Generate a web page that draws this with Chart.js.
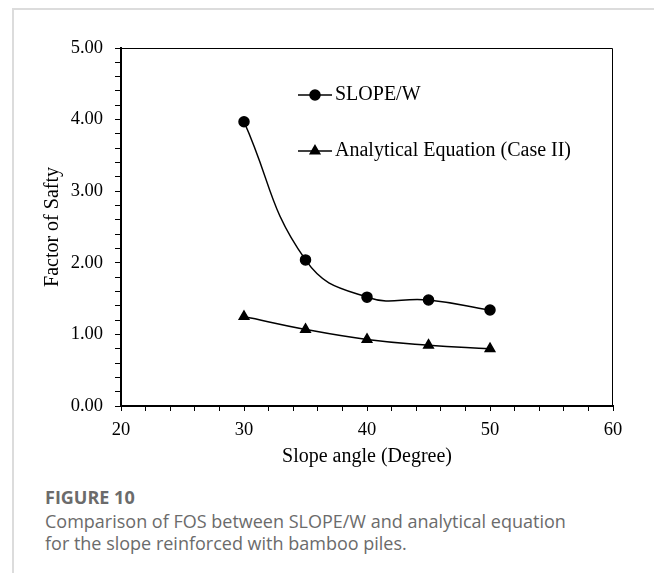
<!DOCTYPE html>
<html>
<head>
<meta charset="utf-8">
<script src="https://cdn.jsdelivr.net/npm/chart.js@4/dist/chart.umd.min.js"></script>
<style>
  html, body { margin: 0; padding: 0; background: #fff; }
  #page { position: relative; width: 654px; height: 573px; overflow: hidden; }
  #frame { position: absolute; left: 12px; top: 8px; right: 0; bottom: 0;
           border-left: 2px solid #dcdcdc; border-top: 2px solid #dcdcdc; }
  #chart { position: absolute; left: 0; top: 0; }
  .cap { position: absolute; left: 45px; font-family: "Open Sans", sans-serif; color: #6b6b6b; white-space: nowrap; }
  #figno { top: 485px; font-size: 18px; font-weight: 700; line-height: 24px; }
  #captxt { top: 510px; font-size: 18px; line-height: 22px; }
</style>
</head>
<body>
<div id="page">
  <div id="frame"></div>
  <canvas id="chart" width="654" height="475"></canvas>
  <div class="cap" id="figno">FIGURE 10</div>
  <div class="cap" id="captxt">Comparison of FOS between SLOPE/W and analytical equation<br>for the slope reinforced with bamboo piles.</div>
</div>
<script>
// slope angle (degree)
var angles = [30, 35, 40, 45, 50];
// factor of safety values
var slopeW = [3.97, 2.04, 1.52, 1.48, 1.34];
var analytical = [1.25, 1.07, 0.93, 0.85, 0.80];
var seriesNames = ["SLOPE/W", "Analytical Equation (Case II)"];

var serif = '"Liberation Serif", "Times New Roman", serif';

function toPoints(xs, ys) {
    var out = [];
    for (var i = 0; i < xs.length; i++) {
        out.push({x: xs[i], y: ys[i]});
    }
    return out;
}

// box around plot + legend inside the plot area
var boxAndLegend = {
    id: 'boxAndLegend',
    afterDatasetsDraw: function (chart) {
        var ctx = chart.ctx;
        var a = chart.chartArea;
        ctx.save();
        ctx.strokeStyle = '#000';
        ctx.lineWidth = 1;
        ctx.beginPath();
        ctx.moveTo(a.left, a.top + 0.5);
        ctx.lineTo(a.right - 0.5, a.top + 0.5);
        ctx.lineTo(a.right - 0.5, a.bottom);
        ctx.stroke();
        ctx.restore();

        chart.data.datasets.forEach(function (ds, i) {
            var x0 = a.left + 177;
            var y = a.top + 47 + i * 56;
            ctx.save();
            ctx.strokeStyle = '#000';
            ctx.fillStyle = '#000';
            ctx.lineWidth = ds.borderWidth;
            ctx.beginPath();
            ctx.moveTo(x0, y);
            ctx.lineTo(x0 + 34, y);
            ctx.stroke();
            Chart.helpers.drawPoint(ctx, {pointStyle: ds.pointStyle, radius: ds.pointRadius, borderWidth: 1, rotation: 0}, x0 + 17, y);
            ctx.font = '20px ' + serif;
            ctx.textBaseline = 'middle';
            ctx.textAlign = 'left';
            ctx.fillText(ds.label, x0 + 37, y);
            ctx.restore();
        });
    }
};

var ctx = document.getElementById("chart").getContext("2d");
var fosChart = new Chart(ctx, {
    type: 'line',
    data: {
        datasets: [
            {
                label: seriesNames[0],
                data: toPoints(angles, slopeW),
                borderColor: '#000',
                backgroundColor: '#000',
                borderWidth: 1.5,
                pointStyle: 'circle',
                pointRadius: 5,
                tension: 0.45,
                fill: false
            },
            {
                label: seriesNames[1],
                data: toPoints(angles, analytical),
                borderColor: '#000',
                backgroundColor: '#000',
                borderWidth: 1.5,
                pointStyle: 'triangle',
                pointRadius: 5.5,
                tension: 0.45,
                fill: false
            }
        ]
    },
    options: {
        responsive: false,
        animation: false,
        devicePixelRatio: 1,
        layout: { padding: { top: 48, right: 41, bottom: 6, left: 0 } },
        plugins: { legend: { display: false }, tooltip: { enabled: false } },
        scales: {
            x: {
                type: 'linear',
                min: 20, max: 60,
                afterFit: function (s) { s.height = 63; },
                ticks: {
                    stepSize: 2, autoSkip: false, maxRotation: 0, padding: 8,
                    color: '#000', font: { family: serif, size: 18.5 },
                    callback: function (v) { return v % 10 === 0 ? String(v) : ''; }
                },
                grid: { drawOnChartArea: false, drawTicks: true, tickLength: 5, color: '#000', tickColor: '#000' },
                border: { display: true, color: '#000', width: 2 },
                title: { display: true, text: 'Slope angle (Degree)', color: '#000',
                         font: { family: serif, size: 20 }, padding: { top: 0, bottom: 0 } }
            },
            y: {
                min: 0, max: 5,
                afterFit: function (s) { s.width = 121; },
                ticks: {
                    stepSize: 0.2, autoSkip: false, padding: 12,
                    color: '#000', font: { family: serif, size: 18.5 },
                    callback: function (v) {
                        return Math.abs(v - Math.round(v)) < 1e-6 ? Math.round(v).toFixed(2) : '';
                    }
                },
                grid: { drawOnChartArea: false, drawTicks: true, tickLength: 6, color: '#000', tickColor: '#000' },
                border: { display: true, color: '#000', width: 2 },
                title: { display: true, text: 'Factor of Safty', color: '#000',
                         font: { family: serif, size: 20 }, padding: { top: 41, bottom: 0 } }
            }
        }
    },
    plugins: [boxAndLegend]
});
</script>
</body>
</html>
